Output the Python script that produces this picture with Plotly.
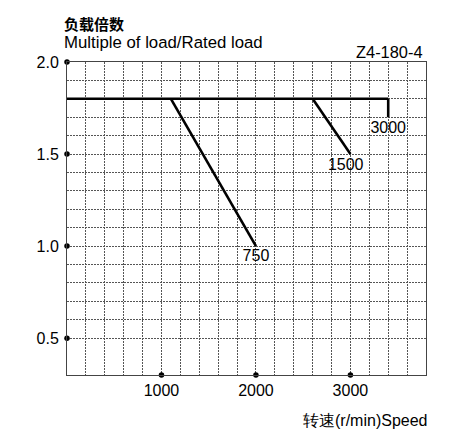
import plotly.graph_objects as go

# Data
rated_x = [0, 3400]
rated_y = [1.8, 1.8]
curve_750_x = [1100, 2000]
curve_750_y = [1.8, 1.0]
curve_1500_x = [2600, 3000]
curve_1500_y = [1.8, 1.5]
curve_3000_x = [3400, 3400]
curve_3000_y = [1.8, 1.7]

label_text = ["750", "1500", "3000"]
label_x = [2000, 2950, 3400]
label_y = [0.94, 1.435, 1.635]

x_ticks = [1000, 2000, 3000]
y_ticks = [0.5, 1.0, 1.5, 2.0]
y_grid = [round(0.5 + 0.1 * i, 1) for i in range(16)]
x_grid = list(range(0, 3801, 200))

FONT = "Liberation Sans, Arial, sans-serif"
W, H = 455, 431
ML, MR, MT, MB = 67, 29, 62, 56

fig = go.Figure()
for xs, ys in [(rated_x, rated_y), (curve_750_x, curve_750_y),
               (curve_1500_x, curve_1500_y), (curve_3000_x, curve_3000_y)]:
    fig.add_trace(go.Scatter(x=xs, y=ys, mode="lines",
                             line=dict(color="black", width=2.6),
                             showlegend=False, hoverinfo="skip"))

fig.add_trace(go.Scatter(x=label_x, y=label_y, mode="text", text=label_text,
                         textfont=dict(family=FONT, size=16, color="black"),
                         showlegend=False, hoverinfo="skip"))

# tick dots
fig.add_trace(go.Scatter(x=[0] * len(y_ticks), y=y_ticks, mode="markers",
                         marker=dict(color="black", size=5.5), cliponaxis=False,
                         showlegend=False, hoverinfo="skip"))
fig.add_trace(go.Scatter(x=x_ticks, y=[0.3] * len(x_ticks), mode="markers",
                         marker=dict(color="black", size=5.5), cliponaxis=False,
                         showlegend=False, hoverinfo="skip"))

y_text = [f"{v:.1f}" if v in y_ticks else "" for v in y_grid]
x_text = [str(v) if v in x_ticks else "" for v in x_grid]

GRID = dict(showgrid=True, gridcolor="#555", griddash="2px,1px", gridwidth=1,
            showline=True, linecolor="#444", linewidth=1, mirror=True,
            zeroline=False, ticks="")

fig.update_layout(
    width=W, height=H,
    margin=dict(l=ML, r=MR, t=MT, b=MB),
    paper_bgcolor="white", plot_bgcolor="white",
    font=dict(family=FONT, size=16, color="black"),
    xaxis=dict(range=[0, 3800], tickvals=x_grid, ticktext=x_text,
               ticklabelstandoff=1, **GRID),
    yaxis=dict(range=[0.3, 2.0], tickvals=y_grid, ticktext=y_text,
               ticklabelstandoff=4, **GRID),
)

pw = W - ML - MR
ph = H - MT - MB


def ann(text, px, py, anchor, font):
    fig.add_annotation(text=text, x=(px - ML) / pw, y=(H - MB - py) / ph,
                       xref="paper", yref="paper", showarrow=False,
                       xanchor=anchor, yanchor="middle", font=font)


ann("<b>负载倍数</b>", 62, 23, "left", dict(family="Noto Sans CJK SC", size=15))
ann("Multiple of load/Rated load", 62, 42, "left", dict(family=FONT, size=16.8))
ann("Z4-180-4", 425, 52, "right", dict(family=FONT, size=16.4))
ann("转速(r/min)Speed", 429, 420, "right", dict(family=FONT, size=16))

fig.write_html("out.html", config={"displayModeBar": False},
               post_script="document.body.style.margin='0';")
